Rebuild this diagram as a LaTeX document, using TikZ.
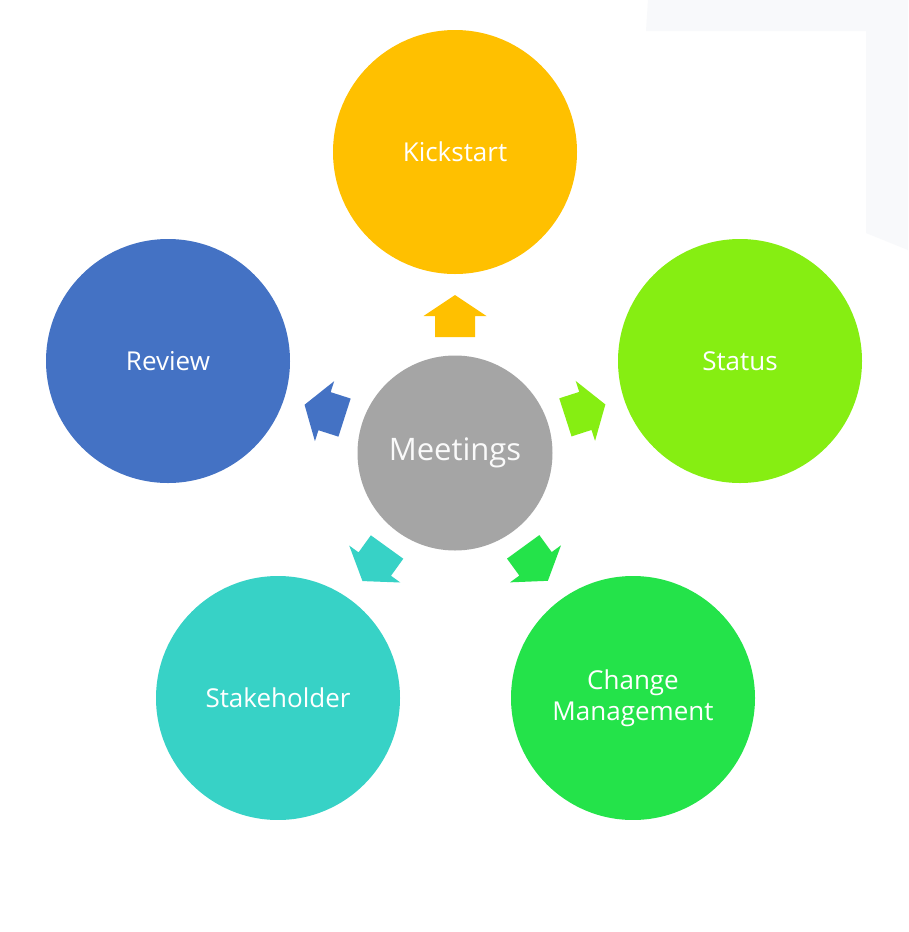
\documentclass[tikz,border=0pt]{standalone}
\usepackage{fontspec}
\setmainfont{Open Sans}
\usetikzlibrary{calc}
\definecolor{cKick}{HTML}{FFC000}
\definecolor{cStatus}{HTML}{86EE12}
\definecolor{cReview}{HTML}{4472C4}
\definecolor{cMeet}{HTML}{A5A5A5}
\definecolor{cStake}{HTML}{37D2C6}
\definecolor{cChange}{HTML}{24E34A}
\definecolor{cFaint}{HTML}{F8F9FB}
\tikzset{
  bubble/.style={circle, minimum size=244pt, inner sep=0pt, text=white,
    font=\fontsize{26}{31}\selectfont, align=center},
  hub/.style={circle, minimum size=195pt, inner sep=0pt, fill=cMeet,
    text=white!94!cMeet, font=\fontsize{31}{36}\selectfont},
}
\newcommand\blockarrow[3]{%
  \pgfmathanglebetweenpoints{\pgfpointanchor{#1}{center}}{\pgfpointanchor{#2}{center}}%
  \let\arrang\pgfmathresult
  \begin{scope}[shift={($(#1.center)!137pt!(#2.center)$)}, rotate=\arrang]
    \fill[#3] (-21pt,-20pt) -- (0pt,-20pt) -- (0pt,-31.5pt) -- (21pt,0pt)
      -- (0pt,31.5pt) -- (0pt,20pt) -- (-21pt,20pt) -- cycle;
  \end{scope}}
\begin{document}
\begin{tikzpicture}[x=1pt,y=-1pt]
\useasboundingbox (0,0) rectangle (908,932);
\fill[white] (0,0) rectangle (908,932);
% faint background shape
\fill[cFaint] (646,31) -- (648,0) -- (908,0) -- (908,250) -- (866,233) -- (866,31) -- cycle;
\begin{scope}
  \clip (0,0) rectangle (908,819);
  \node[bubble, fill=cKick] (kick) at (455,152) {Kickstart};
  \node[bubble, fill=cReview] (review) at (168,361) {Review};
  \node[bubble, fill=cStatus] (status) at (740,361) {Status};
  \node[bubble, fill=cStake] (stake) at (278,698) {Stakeholder};
  \node[bubble, fill=cChange] (change) at (633,698) {Change\\Management};
  \node[hub] (meet) at (455,453) {Meetings};
\end{scope}
\blockarrow{meet}{kick}{cKick}
\blockarrow{meet}{status}{cStatus}
\blockarrow{meet}{review}{cReview}
\blockarrow{meet}{stake}{cStake}
\blockarrow{meet}{change}{cChange}
\end{tikzpicture}
\end{document}
